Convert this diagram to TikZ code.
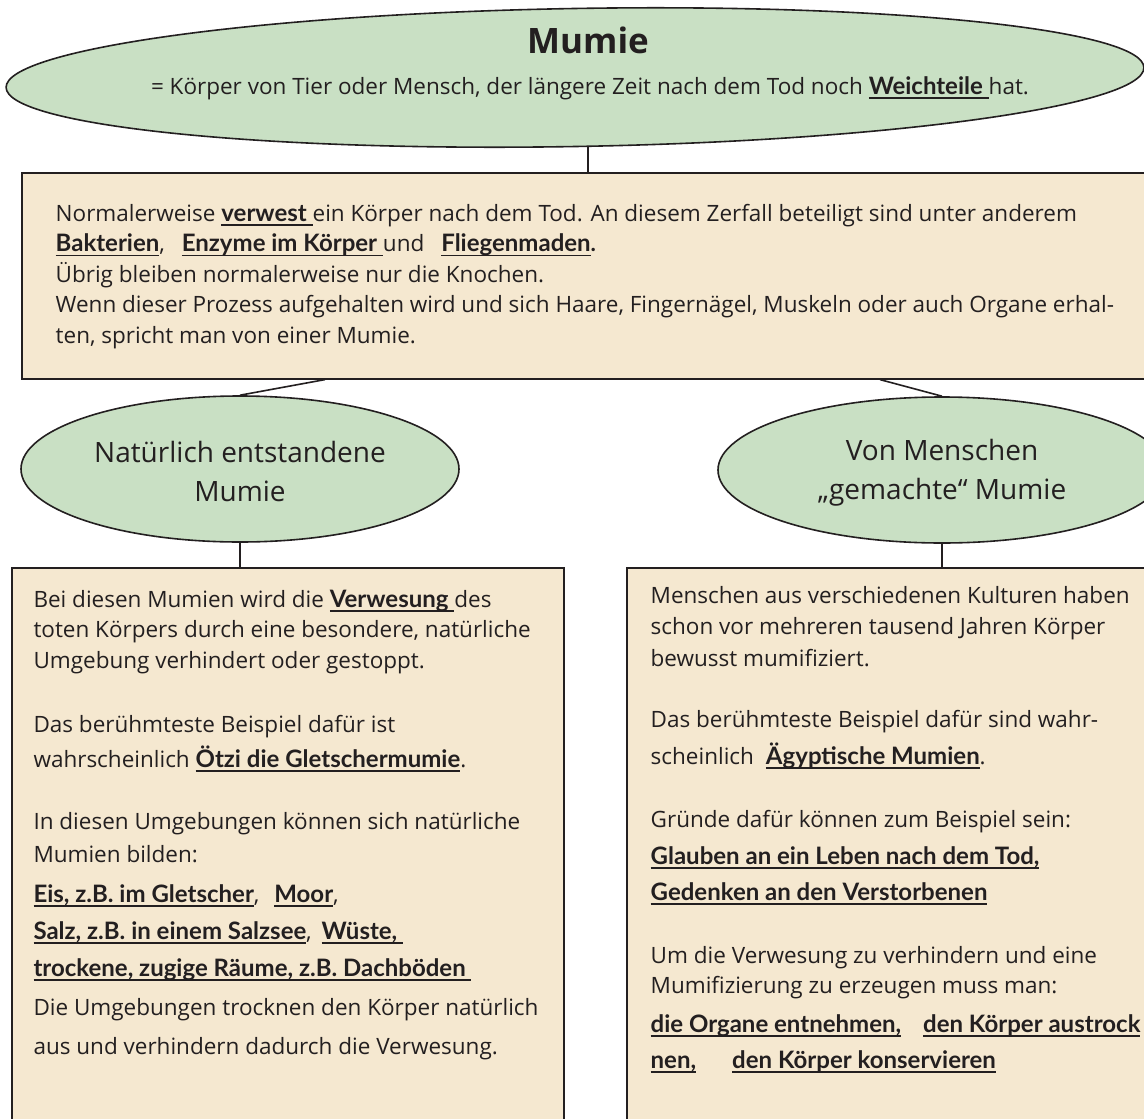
\documentclass[tikz,border=0pt]{standalone}
\usepackage{fontspec}
\setmainfont{Open Sans}
\newfontfamily\handfont{Lato}
\usetikzlibrary{shapes.geometric,calc}
\definecolor{ellgreen}{RGB}{201,224,196}
\definecolor{boxbeige}{RGB}{245,232,208}
\definecolor{ink}{RGB}{35,31,32}
\newcommand\kw[1]{{\handfont\bfseries\fontsize{24}{30.5}\selectfont\setbox0\hbox{#1}\rlap{\rule[-4.5pt]{\wd0}{1.6pt}}\box0}}
\newcommand\firstline{\rule{0pt}{24pt}}
\begin{document}
\begin{tikzpicture}[x=1pt,y=-1pt,
  ell/.style={ellipse, draw=ink, line width=1.6pt, fill=ellgreen, inner sep=0pt, text=ink,
    align=center, font=\fontsize{28}{39}\selectfont},
  panel/.style={rectangle, draw=ink, line width=1.6pt, fill=boxbeige, anchor=north west, inner sep=0pt},
  body/.style={anchor=north west, align=left, inner sep=0pt, text=ink,
    font=\fontsize{22.5}{30.5}\selectfont},
  conn/.style={draw=ink, line width=1.6pt}]
\useasboundingbox (0,0) rectangle (1144,1119);
\clip (0,0) rectangle (1144,1119);
\fill[white] (0,0) rectangle (1144,1119);

% top ellipse
\node[ell, minimum width=1138pt, minimum height=138pt, rotate=1] (top) at (575,77.5) {};
\node[inner sep=0pt, text=ink, font=\bfseries\fontsize{35}{40}\selectfont, anchor=base] (title) at (588,53) {Mumie};
\node[inner sep=0pt, text=ink, font=\fontsize{22.5}{30}\selectfont, anchor=base] (sub) at (590,94)
  {= Körper von Tier oder Mensch, der längere Zeit nach dem Tod noch \kw{Weichteile\ }hat.};

% main box
\node[panel, minimum width=1170pt, minimum height=206pt] (box1) at (21,172) {};
\node[body] (t1) at (55.5,197) {\firstline Normalerweise \kw{verwest\ }ein Körper nach dem Tod. An diesem Zerfall beteiligt sind unter anderem\\
\kw{Bakterien},\hspace{17pt}\kw{Enzyme im Körper\ }und\hspace{17pt}\kw{Fliegenmaden}{\handfont\bfseries .}\\
Übrig bleiben normalerweise nur die Knochen.\\
Wenn dieser Prozess aufgehalten wird und sich Haare, Fingernägel, Muskeln oder auch Organe erhal-\\
ten, spricht man von einer Mumie.};

% second level ellipses
\node[ell, minimum width=438pt, minimum height=146pt] (lell) at (240,469) {\rule{0pt}{26pt}Natürlich entstandene\\Mumie};
\node[ell, minimum width=448pt, minimum height=146pt] (rell) at (942,470) {\rule{0pt}{26pt}Von Menschen\\„gemachte“ Mumie};

% lower boxes
\node[panel, minimum width=552pt, minimum height=600pt] (lbox) at (11,567) {};
\node[panel, minimum width=600pt, minimum height=600pt] (rbox) at (626,567) {};

\node[body] (t2) at (33.3,583) {\firstline Bei diesen Mumien wird die \kw{Verwesung\ }des\\[-0.5pt]
toten Körpers durch eine besondere, natürliche\\[0.5pt]
Umgebung verhindert oder gestoppt.\\[33.5pt]
Das berühmteste Beispiel dafür ist\\[4.5pt]
wahrscheinlich \kw{Ötzi die Gletschermumie}.\\[31.5pt]
In diesen Umgebungen können sich natürliche\\[2.5pt]
Mumien bilden:\\[9.5pt]
\kw{Eis, z.B. im Gletscher},\hspace{15pt}\kw{Moor},\\[6.5pt]
\kw{Salz, z.B. in einem Salzsee},\hspace{10pt}\kw{Wüste,\ }\\[6.5pt]
\kw{trockene, zugige Räume, z.B. Dachböden\ }\\[8.5pt]
Die Umgebungen trocknen den Körper natürlich\\[8.5pt]
aus und verhindern dadurch die Verwesung.};

\node[body] (t3) at (650.5,579) {\firstline Menschen aus verschiedenen Kulturen haben\\[0.5pt]
schon vor mehreren tausend Jahren Körper\\[1.5pt]
bewusst mumifiziert.\\[30.5pt]
Das berühmteste Beispiel dafür sind wahr-\\[6.5pt]
scheinlich\hspace{12pt}\kw{Ägyptische Mumien}.\\[32.5pt]
Gründe dafür können zum Beispiel sein:\\[6.5pt]
\kw{Glauben an ein Leben nach dem Tod,}\\[5.5pt]
\kw{Gedenken an den Verstorbenen}\\[32.5pt]
Um die Verwesung zu verhindern und eine\\[-0.5pt]
Mumifizierung zu erzeugen muss man:\\[8.5pt]
\kw{die Organe entnehmen,}\hspace{22pt}\kw{den Körper austrock}\\[5.5pt]
\kw{nen,}\hspace{36pt}\kw{den Körper konservieren}};

% connectors
\coordinate (b1l) at ($(box1.south west)+(304,0)$);
\coordinate (b1r) at ($(box1.south west)+(859,0)$);
\draw[conn] (title |- top.south) -- (title |- box1.north);
\draw[conn] (b1l) -- (lell.north);
\draw[conn] (b1r) -- (rell.north);
\draw[conn] (lell.south) -- (lell.south |- lbox.north);
\draw[conn] (rell.south) -- (rell.south |- rbox.north);
\end{tikzpicture}
\end{document}
